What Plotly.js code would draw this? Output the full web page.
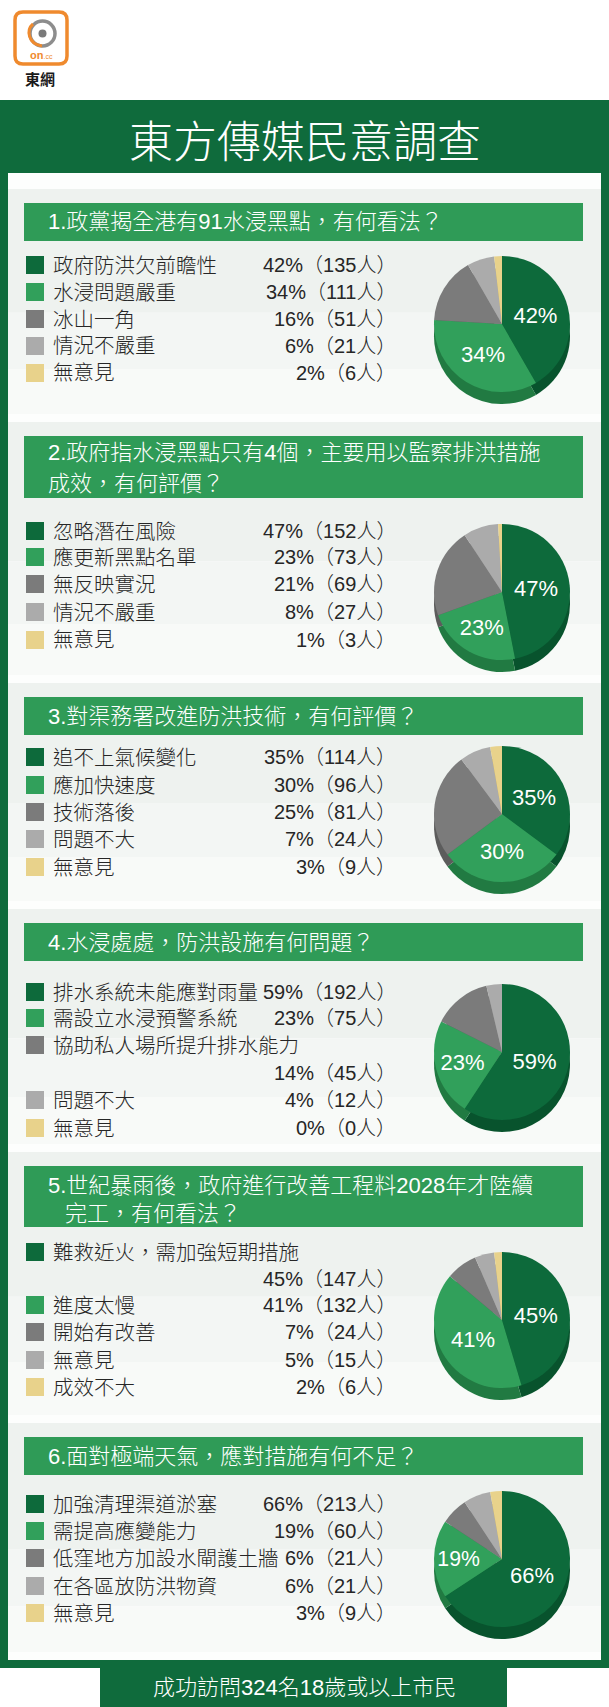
<!DOCTYPE html>
<html>
<head>
<meta charset="utf-8">
<script src="https://cdn.plot.ly/plotly-3.0.1.min.js"></script>
<style>html,body{margin:0;padding:0;background:#fff;}#chart{width:609px;height:1707px;}</style>
</head>
<body>
<div id="chart"></div>
<script>
// ---------------- DATA ----------------
const mainTitle = '東方傳媒民意調查';
const footerText = '成功訪問324名18歲或以上市民';
const logoText = '東網';

const q1Title = ['1.政黨揭全港有91水浸黑點，有何看法？'];
const q1Labels = ['政府防洪欠前瞻性', '水浸問題嚴重', '冰山一角', '情況不嚴重', '無意見'];
const q1Pct = [42, 34, 16, 6, 2];
const q1Count = [135, 111, 51, 21, 6];

const q2Title = ['2.政府指水浸黑點只有4個，主要用以監察排洪措施', '成效，有何評價？'];
const q2Labels = ['忽略潛在風險', '應更新黑點名單', '無反映實況', '情況不嚴重', '無意見'];
const q2Pct = [47, 23, 21, 8, 1];
const q2Count = [152, 73, 69, 27, 3];

const q3Title = ['3.對渠務署改進防洪技術，有何評價？'];
const q3Labels = ['追不上氣候變化', '應加快速度', '技術落後', '問題不大', '無意見'];
const q3Pct = [35, 30, 25, 7, 3];
const q3Count = [114, 96, 81, 24, 9];

const q4Title = ['4.水浸處處，防洪設施有何問題？'];
const q4Labels = ['排水系統未能應對雨量', '需設立水浸預警系統', '協助私人場所提升排水能力', '問題不大', '無意見'];
const q4Pct = [59, 23, 14, 4, 0];
const q4Count = [192, 75, 45, 12, 0];

const q5Title = ['5.世紀暴雨後，政府進行改善工程料2028年才陸續', '完工，有何看法？'];
const q5Labels = ['難救近火，需加強短期措施', '進度太慢', '開始有改善', '無意見', '成效不大'];
const q5Pct = [45, 41, 7, 5, 2];
const q5Count = [147, 132, 24, 15, 6];

const q6Title = ['6.面對極端天氣，應對措施有何不足？'];
const q6Labels = ['加強清理渠道淤塞', '需提高應變能力', '低窪地方加設水閘護土牆', '在各區放防洪物資', '無意見'];
const q6Pct = [66, 19, 6, 6, 3];
const q6Count = [213, 60, 21, 21, 9];

// ---------------- STYLE / LAYOUT ----------------
const W = 609, H = 1707;
const FONT = "'Liberation Sans', 'Noto Sans CJK TC', sans-serif";
const CJK = "'Noto Sans CJK TC', 'Liberation Sans', sans-serif";
const DARK = '#0f6b3c';
const BAR = '#2f9b57';
const TXT = '#262626';
const sliceColors = ['#0d6a3b', '#31a05b', '#7b7b7b', '#ababab', '#e8d28b'];
const sideColors = ['#08532d', '#217a42', '#5c5c5c', '#8a8a8a', '#c4ad66'];

const sections = [
  {title: q1Title, labels: q1Labels, pct: q1Pct, count: q1Count,
   bar: [203, 241], titleY: [222], titleX: [47],
   labelY: [265, 292, 319, 346, 373], valueY: [265, 292, 319, 346, 373], pieCY: 324},
  {title: q2Title, labels: q2Labels, pct: q2Pct, count: q2Count,
   bar: [436, 498], titleY: [453, 484], titleX: [47, 47],
   labelY: [531, 557, 584, 612, 640], valueY: [531, 557, 584, 612, 640], pieCY: 592},
  {title: q3Title, labels: q3Labels, pct: q3Pct, count: q3Count,
   bar: [697, 735], titleY: [716], titleX: [47],
   labelY: [757, 785, 812, 839, 867], valueY: [757, 785, 812, 839, 867], pieCY: 814},
  {title: q4Title, labels: q4Labels, pct: q4Pct, count: q4Count,
   bar: [923, 961], titleY: [942], titleX: [47],
   labelY: [992, 1018, 1045, 1100, 1128], valueY: [992, 1018, 1073, 1100, 1128], pieCY: 1052},
  {title: q5Title, labels: q5Labels, pct: q5Pct, count: q5Count,
   bar: [1166, 1227], titleY: [1185, 1213], titleX: [47, 64],
   labelY: [1252, 1305, 1332, 1360, 1387], valueY: [1279, 1305, 1332, 1360, 1387], pieCY: 1320},
  {title: q6Title, labels: q6Labels, pct: q6Pct, count: q6Count,
   bar: [1437, 1475], titleY: [1456], titleX: [47],
   labelY: [1504, 1531, 1558, 1586, 1613], valueY: [1504, 1531, 1558, 1586, 1613], pieCY: 1559}
];

const PIE_CX = 502, PIE_D = 136, PIE_DEPTH = 12;

const px = x => x / W;
const py = y => 1 - y / H;

const shapes = [];
const annotations = [];
const traces = [];

function rect(x0, y0, x1, y1, fill, extra) {
  shapes.push(Object.assign({type: 'rect', xref: 'paper', yref: 'paper',
    x0: px(x0), x1: px(x1), y0: py(y1), y1: py(y0),
    fillcolor: fill, line: {width: 0}, layer: 'below'}, extra || {}));
}
function text(t, x, y, size, color, anchor, family, weight) {
  annotations.push({text: t, xref: 'paper', yref: 'paper', x: px(x), y: py(y),
    xanchor: anchor || 'left', yanchor: 'middle', showarrow: false,
    font: {size: size, color: color, family: family || FONT, weight: weight || 'normal'}, borderpad: 0});
}

// Header band and frame
rect(0, 100, W, 174, DARK);
rect(0, 172, W, 1668, DARK);
rect(8, 173, 601, 1660, '#fdfefd');
text(mainTitle, W / 2, 139, 44, '#ffffff', 'center', CJK, 300);

// Footer
rect(100, 1660, 507, H, DARK);
text(footerText, 304, 1687, 22, '#ffffff', 'center', FONT, 300);

// Logo
shapes.push({type: 'path', xref: 'paper', yref: 'paper',
  path: (() => {
    const x0 = 15, y0 = 12, x1 = 67, y1 = 64, r = 8;
    const P = (x, y) => px(x) + ',' + py(y);
    return 'M' + P(x0 + r, y0) + ' L' + P(x1 - r, y0) + ' Q' + P(x1, y0) + ' ' + P(x1, y0 + r) +
      ' L' + P(x1, y1 - r) + ' Q' + P(x1, y1) + ' ' + P(x1 - r, y1) +
      ' L' + P(x0 + r, y1) + ' Q' + P(x0, y1) + ' ' + P(x0, y1 - r) +
      ' L' + P(x0, y0 + r) + ' Q' + P(x0, y0) + ' ' + P(x0 + r, y0) + ' Z';
  })(),
  fillcolor: '#ffffff', line: {color: '#ef8a2e', width: 3.5}});
shapes.push({type: 'circle', xref: 'paper', yref: 'paper',
  x0: px(30), x1: px(55), y0: py(46), y1: py(21), line: {color: '#8d8d8d', width: 3.5}});
shapes.push({type: 'path', xref: 'paper', yref: 'paper',
  path: 'M' + px(33) + ',' + py(24) + ' C' + px(26) + ',' + py(30) + ' ' + px(28) + ',' + py(44) + ' ' + px(42) + ',' + py(46),
  line: {color: '#ef8a2e', width: 3}});
shapes.push({type: 'circle', xref: 'paper', yref: 'paper',
  x0: px(38.5), x1: px(46.5), y0: py(37.5), y1: py(29.5), fillcolor: '#7a7a7a', line: {width: 0}});
text('<b>on</b><span style="font-size:7px">.cc</span>', 41, 55, 11, '#ef8a2e', 'center', FONT);
text('<b>' + logoText + '</b>', 40, 78, 15, '#1a1a1a', 'center', CJK);

// Sections
sections.forEach((s, i) => {
  const top = s.bar[0] - 14;
  const bottom = i < sections.length - 1 ? sections[i + 1].bar[0] - 22 : 1652;
  const h = bottom - top;
  rect(8, top, 601, top + h * 0.55, '#eef2ef');
  rect(8, top + h * 0.55, 601, top + h * 0.8, '#f3f6f4');
  rect(8, top + h * 0.8, 601, bottom, '#f8faf8');
  rect(24, s.bar[0], 583, s.bar[1], BAR);
  s.title.forEach((t, k) => text(t, s.titleX[k], s.titleY[k], 22, '#ffffff', 'left', FONT, 300));

  s.labels.forEach((lab, k) => {
    rect(26, s.labelY[k] - 9, 44, s.labelY[k] + 9, sliceColors[k]);
    text(lab, 52, s.labelY[k], 20.5, TXT, 'left', FONT, 300);
    text(s.pct[k] + '%（' + s.count[k] + '人）', 397, s.valueY[k], 20, TXT, 'right', FONT, 300);
  });

  const cy = s.pieCY;
  const dom = (c, yy) => ({
    x: [px(c - PIE_D / 2), px(c + PIE_D / 2)],
    y: [py(yy + PIE_D / 2), py(yy - PIE_D / 2)]
  });
  // side (depth) of the pie
  traces.push({type: 'pie', values: s.count, labels: s.labels, sort: false,
    direction: 'clockwise', rotation: 0, domain: dom(PIE_CX, cy + PIE_DEPTH),
    marker: {colors: sideColors, line: {width: 0}}, textinfo: 'none',
    hoverinfo: 'skip', showlegend: false});
  // top face
  traces.push({type: 'pie', values: s.count, labels: s.labels, sort: false,
    direction: 'clockwise', rotation: 0, domain: dom(PIE_CX, cy),
    marker: {colors: sliceColors, line: {width: 0}},
    text: s.pct.map((p, k) => k < 2 ? p + '%' : ''),
    textinfo: 'text', textposition: 'inside', insidetextorientation: 'horizontal',
    insidetextfont: {size: 22, color: '#ffffff', family: FONT},
    hoverinfo: 'label+value', showlegend: false});
});

const layout = {
  width: W, height: H,
  margin: {l: 0, r: 0, t: 0, b: 0},
  paper_bgcolor: '#ffffff', plot_bgcolor: '#ffffff',
  showlegend: false,
  shapes: shapes,
  annotations: annotations
};

Plotly.newPlot('chart', traces, layout, {displayModeBar: false, staticPlot: true});
</script>
</body>
</html>
